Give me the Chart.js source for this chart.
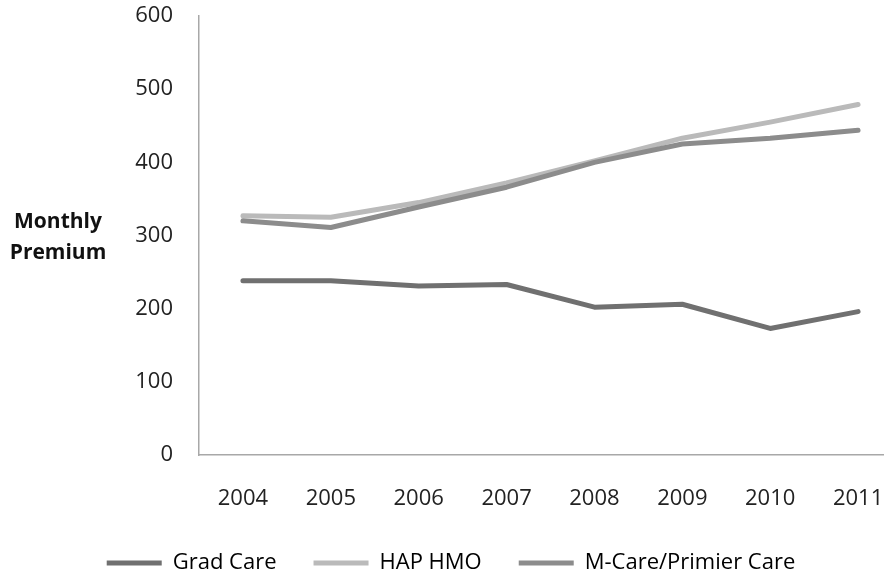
<!DOCTYPE html>
<html>
<head>
<meta charset="utf-8">
<script src="https://cdn.jsdelivr.net/npm/chart.js@4.4.1/dist/chart.umd.min.js"></script>
<style>
  html, body { margin: 0; padding: 0; background: #fff; overflow: hidden; }
  #wrap { position: absolute; left: 0; top: 0; width: 902px; height: 584px; }
</style>
</head>
<body>
<div id="wrap"><canvas id="myChart" width="902" height="584"></canvas></div>
<script>
// years on the category axis
var years = ['2004', '2005', '2006', '2007', '2008', '2009', '2010', '2011'];
// monthly premium per plan
var gradCare = [238, 238, 231, 233, 202, 206, 173, 196];
var hapHmo = [327, 325, 345, 372, 402, 433, 455, 479];
var mCare = [320, 311, 339, 366, 400, 425, 433, 444];
var seriesNames = ['Grad Care', 'HAP HMO', 'M-Care/Primier Care'];
var yTitle = ['Monthly', 'Premium'];

var FONT = "'Open Sans', 'DejaVu Sans', sans-serif";

// y title is horizontal in the original, so draw it by hand
const yTitlePlugin = {
    id: 'yTitle',
    afterDraw(chart) {
        const ctx = chart.ctx;
        ctx.save();
        ctx.font = 'bold 21px ' + FONT;
        ctx.fillStyle = '#111';
        ctx.textAlign = 'center';
        ctx.textBaseline = 'alphabetic';
        ctx.fillText(yTitle[0], 58, 228);
        ctx.fillText(yTitle[1], 58, 259);
        ctx.restore();
    }
};

function line(label, data, color, order) {
    return {
        label: label,
        data: data,
        borderColor: color,
        backgroundColor: color,
        borderWidth: 5,
        borderCapStyle: 'round',
        borderJoinStyle: 'round',
        pointRadius: 0,
        pointHoverRadius: 0,
        tension: 0,
        fill: false,
        order: order
    };
}

const ctx = document.getElementById('myChart').getContext('2d');
const myChart = new Chart(ctx, {
    type: 'line',
    data: {
        labels: years,
        datasets: [
            line(seriesNames[0], gradCare, '#707070', 2),
            line(seriesNames[1], hapHmo, '#bababa', 1),
            line(seriesNames[2], mCare, '#8c8c8c', 0)
        ]
    },
    options: {
        responsive: false,
        animation: false,
        layout: {
            padding: { top: 16, left: 0, right: 0, bottom: 0 }
        },
        scales: {
            x: {
                offset: true,
                grid: { display: false, drawTicks: false },
                border: { display: true, color: '#a8a8a8', width: 1.5 },
                ticks: {
                    color: '#222',
                    padding: 31,
                    maxRotation: 0,
                    font: { family: FONT, size: 22 }
                },
                afterFit: function (scale) {
                    scale.height = 60;
                    scale.paddingLeft = 0;
                    scale.paddingRight = 0;
                }
            },
            y: {
                min: 0,
                max: 600,
                grid: { display: false, drawTicks: false },
                border: { display: true, color: '#a8a8a8', width: 1.5 },
                ticks: {
                    stepSize: 100,
                    color: '#222',
                    padding: 26,
                    font: { family: FONT, size: 22 }
                },
                afterFit: function (scale) {
                    scale.width = 199;
                    scale.paddingTop = 0;
                    scale.paddingBottom = 0;
                }
            }
        },
        plugins: {
            tooltip: { enabled: false },
            legend: {
                position: 'bottom',
                labels: {
                    boxWidth: 55,
                    boxHeight: 5,
                    padding: 37,
                    color: '#222',
                    font: { family: FONT, size: 22 },
                    generateLabels: function (chart) {
                        return chart.data.datasets.map(function (d, i) {
                            return {
                                text: d.label,
                                fillStyle: d.borderColor,
                                strokeStyle: d.borderColor,
                                lineWidth: 0,
                                hidden: false,
                                datasetIndex: i
                            };
                        });
                    }
                }
            }
        }
    },
    plugins: [yTitlePlugin]
});
</script>
</body>
</html>
